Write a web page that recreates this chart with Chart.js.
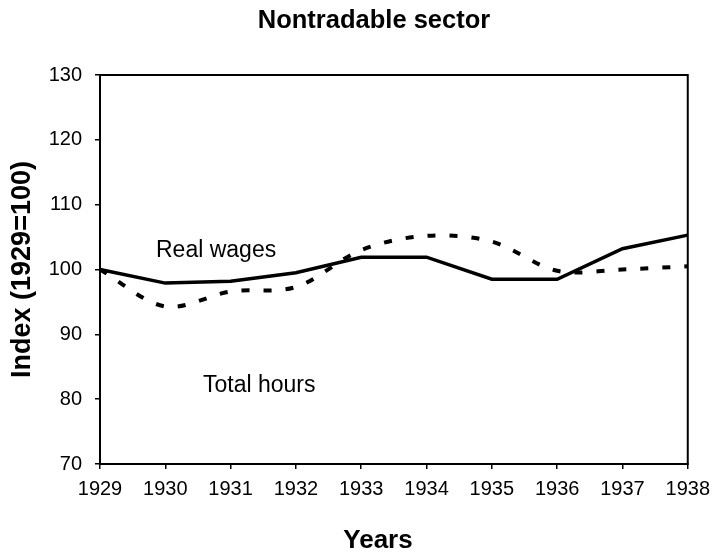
<!DOCTYPE html>
<html>
<head>
<meta charset="utf-8">
<script src="https://cdn.jsdelivr.net/npm/chart.js@4.4.0/dist/chart.umd.min.js"></script>
<style>
  html, body { margin: 0; padding: 0; background: #fff; }
  #wrap { width: 718px; height: 558px; }
</style>
</head>
<body>
<div id="wrap"><canvas id="chart" width="718" height="558"></canvas></div>
<script>
// values
const years = ['1929', '1930', '1931', '1932', '1933', '1934', '1935', '1936', '1937', '1938'];
const realWages = [100, 97.9, 98.2, 99.5, 101.9, 101.9, 98.5, 98.5, 103.2, 105.3];
const totalHours = [100, 94.3, 96.6, 97.3, 103.0, 105.2, 104.3, 99.8, 100.0, 100.5];
const yTicks = [70, 80, 90, 100, 110, 120, 130];

const FONT = "'Liberation Sans', Arial, sans-serif";

// frame round the plot + title, x title and the two line labels
const extras = {
  id: 'extras',
  afterDraw(chart) {
    const { ctx, chartArea: a } = chart;
    ctx.save();
    ctx.strokeStyle = '#000';
    ctx.lineWidth = 2;
    ctx.strokeRect(a.left, a.top, a.right - a.left, a.bottom - a.top);

    ctx.fillStyle = '#000';
    ctx.textAlign = 'center';
    ctx.textBaseline = 'alphabetic';
    ctx.font = 'bold 25.5px ' + FONT;
    ctx.fillText('Nontradable sector', 374, 28);
    ctx.font = 'bold 26px ' + FONT;
    ctx.fillText('Years', 378, 548);

    ctx.font = '23px ' + FONT;
    ctx.textAlign = 'left';
    ctx.fillText('Real wages', 156, 257);
    ctx.fillText('Total hours', 203, 392);
    ctx.restore();
  }
};

new Chart(document.getElementById('chart'), {
  type: 'line',
  data: {
    labels: years,
    datasets: [
      {
        label: 'Real wages',
        data: realWages,
        borderColor: '#000',
        borderWidth: 3.5,
        pointRadius: 0,
        tension: 0,
        fill: false,
      },
      {
        label: 'Total hours',
        data: totalHours,
        borderColor: '#000',
        borderWidth: 4,
        borderDash: [8, 14],
        borderCapStyle: 'butt',
        pointRadius: 0,
        tension: 0.33,
        fill: false,
      },
    ],
  },
  options: {
    responsive: false,
    animation: false,
    layout: { padding: { left: 0, right: 26, top: 75, bottom: 0 } },
    plugins: {
      legend: { display: false },
      tooltip: { enabled: false },
      title: { display: false },
    },
    scales: {
      x: {
        offset: false,
        afterFit: (s) => { s.height = 94; },
        grid: { drawOnChartArea: false, drawTicks: true, tickLength: 5, color: '#000', lineWidth: 1.5 },
        border: { display: true, color: '#000', width: 2 },
        ticks: { color: '#000', font: { family: FONT, size: 20 }, padding: 8, maxRotation: 0, autoSkip: false },
      },
      y: {
        min: 70,
        max: 130,
        afterFit: (s) => { s.width = 100; },
        afterBuildTicks: (s) => { s.ticks = yTicks.map(v => ({ value: v })); },
        grid: { drawOnChartArea: false, drawTicks: true, tickLength: 5, color: '#000', lineWidth: 1.5 },
        border: { display: true, color: '#000', width: 2 },
        ticks: { color: '#000', font: { family: FONT, size: 20 }, padding: 13 },
        title: {
          display: true,
          text: 'Index (1929=100)',
          color: '#000',
          font: { family: FONT, size: 27, weight: 'bold' },
          padding: { top: 6, bottom: 0 },
        },
      },
    },
  },
  plugins: [extras],
});
</script>
</body>
</html>
